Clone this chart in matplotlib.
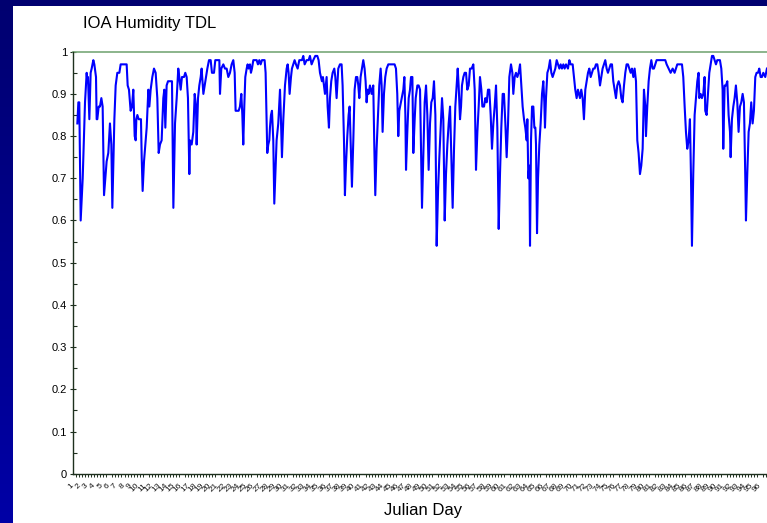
import numpy as np
import matplotlib
matplotlib.use('Agg')
import matplotlib.pyplot as plt
import matplotlib.transforms as mtrans
from matplotlib.colors import LinearSegmentedColormap
from matplotlib.patches import Rectangle

plt.rcParams['font.family'] = ['Liberation Sans', 'DejaVu Sans']

# relative humidity (fraction), x in Julian day
days_a = [1.56, 1.70, 1.83, 2.02, 2.30, 2.62, 2.85, 2.94, 3.03, 3.22,
          3.40, 3.54, 3.77, 3.91, 4.14, 4.23, 4.32, 4.51, 4.69, 4.88,
          5.06, 5.25, 5.43, 5.61, 5.84, 6.07, 6.26, 6.40, 6.54, 6.68,
          6.86, 7.09, 7.37, 7.55, 7.92, 8.38, 8.52, 8.70, 8.93, 9.12,
          9.30, 9.49, 9.63, 9.72, 9.86, 10.04, 10.36, 10.46, 10.59, 10.78,
          10.96, 11.15, 11.38, 11.52, 11.70, 11.93, 12.16, 12.39, 12.62, 12.81,
          12.99, 13.22, 13.45, 13.59, 13.73, 13.91, 14.10, 14.37, 14.65, 14.84,
          15.07, 15.30, 15.43, 15.52, 15.66, 15.85, 16.03, 16.31, 16.49, 16.68,
          16.86, 17.05, 17.14, 17.37, 17.60, 17.79, 17.97, 18.06, 18.25, 18.43,
          18.62, 18.75, 18.99, 19.17, 19.35, 19.54, 19.77, 20.00, 20.18, 20.46,
          20.64, 20.83, 21.20, 21.29, 21.47, 21.75, 21.98, 22.21, 22.44, 22.67,
          22.90]
rh_a = [0.83, 0.88, 0.88, 0.60, 0.70, 0.88, 0.95, 0.93, 0.94, 0.84,
        0.95, 0.96, 0.98, 0.97, 0.94, 0.84, 0.84, 0.87, 0.87, 0.89,
        0.87, 0.66, 0.70, 0.74, 0.76, 0.83, 0.78, 0.63, 0.73, 0.84,
        0.92, 0.95, 0.95, 0.97, 0.97, 0.97, 0.92, 0.91, 0.86, 0.87,
        0.91, 0.80, 0.79, 0.84, 0.85, 0.84, 0.84, 0.75, 0.67, 0.74,
        0.78, 0.82, 0.91, 0.87, 0.91, 0.94, 0.96, 0.95, 0.89, 0.76,
        0.78, 0.79, 0.89, 0.91, 0.82, 0.92, 0.93, 0.93, 0.93, 0.63,
        0.83, 0.89, 0.93, 0.96, 0.94, 0.91, 0.94, 0.94, 0.95, 0.94,
        0.89, 0.71, 0.79, 0.78, 0.81, 0.90, 0.87, 0.78, 0.89, 0.92,
        0.94, 0.96, 0.90, 0.92, 0.94, 0.96, 0.98, 0.98, 0.95, 0.95,
        0.98, 0.98, 0.98, 0.90, 0.96, 0.97, 0.96, 0.96, 0.94, 0.95,
        0.97]

days_b = [23.13, 23.32, 23.45, 23.68, 23.87, 24.05, 24.24, 24.38, 24.51, 24.65,
          24.79, 24.98, 25.11, 25.25, 25.44, 25.57, 25.71, 25.90, 26.04, 26.36,
          26.54, 26.73, 26.91, 27.10, 27.46, 27.60, 27.74, 27.83, 27.97, 28.11,
          28.20, 28.34, 28.48, 28.66, 28.80, 28.99, 29.12, 29.35, 29.59, 29.72,
          29.86, 30.05, 30.28, 30.51, 30.65, 30.78, 30.92, 31.11, 31.24, 31.43,
          31.61, 31.80, 32.03, 32.26, 32.44, 32.63, 32.81, 33.00, 33.27, 33.55,
          33.73, 33.96, 34.19, 34.47, 34.75, 34.93, 35.12, 35.26, 35.39, 35.53,
          35.67, 35.81, 36.04, 36.18, 36.36, 36.50, 36.68, 36.87, 37.10, 37.24,
          37.42, 37.65, 37.88, 38.11, 38.25, 38.44, 38.57, 38.71, 38.90, 39.08,
          39.22, 39.36, 39.54, 39.73, 39.91, 40.10, 40.28, 40.42, 40.56, 40.74,
          40.93, 41.11, 41.29, 41.43, 41.57, 41.71, 41.85, 42.03, 42.26, 42.49,
          42.63, 42.77, 42.95, 43.14, 43.32, 43.51, 43.65, 43.78, 43.97, 44.15,
          44.34, 44.57, 44.80, 45.44, 45.63, 45.81, 45.95, 46.09]
rh_b = [0.98, 0.95, 0.86, 0.86, 0.86, 0.87, 0.90, 0.85, 0.78, 0.87,
        0.94, 0.96, 0.97, 0.96, 0.97, 0.95, 0.96, 0.98, 0.98, 0.98,
        0.97, 0.98, 0.97, 0.98, 0.98, 0.95, 0.84, 0.76, 0.78, 0.79,
        0.82, 0.85, 0.86, 0.79, 0.64, 0.73, 0.79, 0.83, 0.91, 0.84,
        0.75, 0.84, 0.92, 0.96, 0.97, 0.95, 0.90, 0.94, 0.96, 0.97,
        0.98, 0.97, 0.96, 0.98, 0.98, 0.98, 0.99, 0.97, 0.98, 0.98,
        0.99, 0.97, 0.98, 0.99, 0.99, 0.98, 0.95, 0.94, 0.93, 0.94,
        0.92, 0.90, 0.94, 0.87, 0.82, 0.89, 0.93, 0.95, 0.96, 0.94,
        0.89, 0.96, 0.97, 0.97, 0.92, 0.79, 0.66, 0.73, 0.80, 0.85,
        0.87, 0.79, 0.68, 0.79, 0.91, 0.94, 0.94, 0.92, 0.89, 0.94,
        0.96, 0.98, 0.96, 0.93, 0.88, 0.91, 0.90, 0.92, 0.90, 0.92,
        0.78, 0.66, 0.77, 0.85, 0.92, 0.96, 0.92, 0.81, 0.90, 0.94,
        0.96, 0.97, 0.97, 0.97, 0.96, 0.90, 0.80, 0.86]

days_c = [46.42, 46.65, 46.79, 46.93, 47.02, 47.20, 47.39, 47.57, 47.71, 47.90,
          48.03, 48.22, 48.36, 48.59, 48.77, 48.96, 49.09, 49.23, 49.42, 49.60,
          49.79, 49.97, 50.15, 50.34, 50.52, 50.71, 50.89, 51.08, 51.26, 51.45,
          51.63, 51.81, 52.00, 52.18, 52.37, 52.55, 52.74, 52.92, 53.11, 53.29,
          53.47, 53.66, 53.84, 54.03, 54.17, 54.30, 54.49, 54.63, 54.76, 54.95,
          55.13, 55.32, 55.50, 55.69, 55.87, 56.10, 56.33, 56.52, 56.70, 56.89,
          57.07, 57.25, 57.44, 57.58, 57.81, 57.99, 58.18, 58.36, 58.54, 58.73,
          58.91, 59.10, 59.28, 59.47, 59.65, 59.84, 60.02, 60.20, 60.39, 60.57,
          60.76, 60.94, 61.13, 61.31, 61.54, 61.73, 61.86, 62.05, 62.23, 62.42,
          62.60, 62.79, 62.97, 63.15, 63.34, 63.52, 63.71, 63.80, 63.94, 64.08,
          64.17, 64.31, 64.45, 64.63, 64.77, 64.91, 65.00, 65.14, 65.28, 65.46,
          65.64, 65.83, 66.01, 66.15, 66.24, 66.38, 66.57, 66.75, 66.94, 67.12,
          67.30, 67.49, 67.67, 67.86, 68.04, 68.23, 68.41, 68.59, 68.78, 68.96,
          69.15, 69.42, 69.61, 69.79, 70.07, 70.25, 70.43, 70.62, 70.80]
rh_c = [0.89, 0.91, 0.94, 0.85, 0.72, 0.81, 0.89, 0.91, 0.94, 0.94,
        0.76, 0.84, 0.89, 0.92, 0.92, 0.91, 0.77, 0.63, 0.76, 0.88,
        0.92, 0.85, 0.72, 0.83, 0.88, 0.89, 0.93, 0.85, 0.54, 0.67,
        0.75, 0.82, 0.89, 0.84, 0.60, 0.71, 0.78, 0.83, 0.87, 0.75,
        0.63, 0.77, 0.87, 0.92, 0.96, 0.92, 0.84, 0.87, 0.92, 0.94,
        0.95, 0.95, 0.91, 0.92, 0.96, 0.96, 0.97, 0.91, 0.72, 0.81,
        0.87, 0.94, 0.91, 0.87, 0.87, 0.89, 0.88, 0.91, 0.91, 0.85,
        0.77, 0.83, 0.87, 0.92, 0.82, 0.58, 0.71, 0.82, 0.90, 0.90,
        0.83, 0.75, 0.83, 0.94, 0.97, 0.95, 0.90, 0.94, 0.95, 0.94,
        0.95, 0.97, 0.92, 0.87, 0.84, 0.82, 0.79, 0.84, 0.70, 0.73,
        0.54, 0.79, 0.87, 0.87, 0.82, 0.82, 0.78, 0.57, 0.70, 0.78,
        0.83, 0.90, 0.93, 0.88, 0.82, 0.89, 0.95, 0.96, 0.98, 0.95,
        0.94, 0.95, 0.96, 0.98, 0.97, 0.96, 0.97, 0.96, 0.97, 0.96,
        0.97, 0.96, 0.98, 0.97, 0.97, 0.94, 0.91, 0.89, 0.91]

days_d = [71.08, 71.26, 71.45, 71.63, 71.82, 72.00, 72.19, 72.37, 72.56, 72.74,
          72.92, 73.11, 73.29, 73.48, 73.66, 73.85, 74.03, 74.21, 74.40, 74.58,
          74.77, 74.95, 75.14, 75.32, 75.51, 75.69, 75.87, 76.06, 76.24, 76.43,
          76.61, 76.80, 76.98, 77.17, 77.35, 77.53, 77.72, 77.90, 78.09, 78.27,
          78.46, 78.64, 78.83, 79.01, 79.19, 79.38, 79.56, 79.75, 79.93, 80.12,
          80.21, 80.39, 80.58, 80.76, 80.95, 81.13, 81.31, 81.50, 81.68, 82.14,
          82.61, 82.88, 83.07, 83.34, 83.62, 83.90, 84.17, 84.36, 84.54, 84.91,
          85.19, 85.37, 85.56, 85.74, 85.92, 86.11, 86.29, 86.43, 86.57, 86.75,
          86.94, 87.12, 87.31, 87.49, 87.58, 87.77, 87.95, 88.14, 88.32, 88.41,
          88.60, 88.78, 88.97, 89.15, 89.34, 89.52, 89.70, 89.89, 90.07, 90.26,
          90.44, 90.63, 90.81, 90.90, 91.09, 91.27, 91.46, 91.64, 91.83, 91.92,
          92.10, 92.29, 92.47, 92.65, 92.84, 93.02, 93.21, 93.39, 93.58, 93.76,
          93.95, 94.04, 94.22, 94.41, 94.59, 94.77, 94.96, 95.14, 95.33, 95.51,
          95.70, 95.88, 96.07, 96.25, 96.44, 96.71, 96.94]
rh_d = [0.89, 0.91, 0.89, 0.84, 0.91, 0.93, 0.95, 0.96, 0.94, 0.95,
        0.96, 0.96, 0.97, 0.97, 0.95, 0.92, 0.94, 0.96, 0.97, 0.98,
        0.96, 0.95, 0.96, 0.97, 0.97, 0.93, 0.91, 0.89, 0.92, 0.93,
        0.92, 0.89, 0.88, 0.92, 0.95, 0.97, 0.97, 0.96, 0.95, 0.96,
        0.94, 0.96, 0.93, 0.79, 0.76, 0.71, 0.73, 0.77, 0.91, 0.87,
        0.80, 0.87, 0.93, 0.96, 0.98, 0.96, 0.96, 0.97, 0.98, 0.98,
        0.98, 0.98, 0.97, 0.96, 0.95, 0.96, 0.95, 0.96, 0.97, 0.97,
        0.97, 0.94, 0.87, 0.81, 0.77, 0.79, 0.84, 0.71, 0.54, 0.71,
        0.85, 0.89, 0.93, 0.95, 0.89, 0.90, 0.89, 0.90, 0.94, 0.86,
        0.85, 0.90, 0.95, 0.97, 0.99, 0.99, 0.98, 0.97, 0.98, 0.98,
        0.98, 0.96, 0.91, 0.77, 0.92, 0.92, 0.93, 0.85, 0.81, 0.75,
        0.84, 0.87, 0.89, 0.92, 0.88, 0.81, 0.87, 0.88, 0.90, 0.88,
        0.70, 0.60, 0.71, 0.81, 0.83, 0.88, 0.83, 0.86, 0.94, 0.95,
        0.95, 0.96, 0.94, 0.94, 0.95, 0.94, 0.96]

day_labels = list(range(1, 97))
y_ticks = [0, 0.1, 0.2, 0.3, 0.4, 0.5, 0.6, 0.7, 0.8, 0.9, 1]
y_ticklabels = ['0', '0.1', '0.2', '0.3', '0.4', '0.5', '0.6', '0.7', '0.8', '0.9', '1']

days = np.concatenate([days_a, days_b, days_c, days_d])
rh = np.concatenate([rh_a, rh_b, rh_c, rh_d])

W, H = 767, 523
fig = plt.figure(figsize=(W / 100, H / 100), dpi=100)

# navy slide background with the white chart panel on it
bg = fig.add_axes([0, 0, 1, 1], zorder=-10)
bg.axis('off')
grad = np.linspace(0, 1, 256).reshape(-1, 1)
cmap = LinearSegmentedColormap.from_list('slide', ['#000070', '#0000a6'])
bg.imshow(grad, aspect='auto', cmap=cmap, extent=[0, 1, 0, 1], origin='upper')
bg.add_patch(Rectangle((12.7 / W, 0), 1, (H - 6) / H, facecolor='white', edgecolor='none'))
bg.set_xlim(0, 1)
bg.set_ylim(0, 1)

ax = fig.add_axes([73.3 / W, 49.3 / H, 699.7 / W, 422 / H])
ax.set_facecolor('none')

ax.plot(days, rh, color='#0000ff', lw=1.5, zorder=3)
ax.axhline(1, color='#78a878', lw=1.2, clip_on=False, zorder=2)

ax.set_xlim(1, 97.78)
ax.set_ylim(0, 1)

for s in ['top', 'right']:
	ax.spines[s].set_visible(False)
for s in ['left', 'bottom']:
	ax.spines[s].set_color('#1e301e')
	ax.spines[s].set_linewidth(1.0)

ax.set_yticks(y_ticks)
ax.set_yticklabels(y_ticklabels, fontsize=8)
ax.set_yticks(np.arange(0.05, 1, 0.1), minor=True)
ax.tick_params(axis='y', which='major', direction='inout', length=5, width=0.8, color='#1e301e', pad=2)
ax.tick_params(axis='y', which='minor', direction='in', length=3, width=0.8, color='#1e301e')

ax.set_xticks(day_labels)
ax.set_xticklabels([str(d) for d in day_labels], fontsize=6, rotation=45,
				   ha='right', va='top', rotation_mode='anchor', color='#111111')
ax.set_xticks(np.arange(1, 97.78, 10 / 24), minor=True)
ax.tick_params(axis='x', which='major', length=0, pad=6)
ax.tick_params(axis='x', which='minor', direction='out', length=2.2, width=0.7, color='#1e301e')
shift = mtrans.ScaledTranslation(-3 / 100, 0, fig.dpi_scale_trans)
for lab in ax.get_xticklabels():
	lab.set_transform(lab.get_transform() + shift)

fig.text(83.3 / W, (H - 28.3) / H, 'IOA Humidity TDL', fontsize=12, va='baseline')
fig.text(423 / W, 8 / H, 'Julian Day', fontsize=12, ha='center', va='baseline')

fig.savefig('out.png', dpi=100)
